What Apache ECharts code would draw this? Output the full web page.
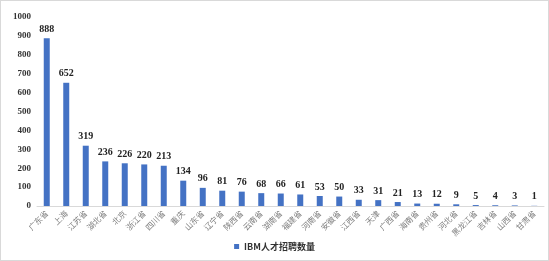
<!DOCTYPE html>
<html><head><meta charset="utf-8">
<script src="https://cdn.jsdelivr.net/npm/echarts@6/dist/echarts.min.js"></script>
<style>html,body{margin:0;padding:0;background:#fff}#c{width:549px;height:261px;box-sizing:border-box;border:1px solid #d9d9d9;}</style>
</head><body><div id="c"></div>
<script>
const categories = ['广东省','上海','江苏省','湖北省','北京','浙江省','四川省','重庆','山东省','辽宁省','陕西省','云南省','湖南省','福建省','河南省','安徽省','江西省','天津','广西省','海南省','贵州省','河北省','黑龙江省','吉林省','山西省','甘肃省'];
const values = [888,652,319,236,226,220,213,134,96,81,76,68,66,61,53,50,33,31,21,13,12,9,5,4,3,1];
const seriesName = 'IBM人才招聘数量';
const yMin = 0, yMax = 1000, yInterval = 100;
const chart = echarts.init(document.getElementById('c'));
chart.setOption({
  animation: false,
  grid: {left: 36, right: 4, top: 16, bottom: 54},
  legend: {bottom: 4, left: 'center', itemWidth: 5, itemHeight: 5, icon: 'rect',
    textStyle: {fontSize: 9, fontWeight: 'bold', color: '#333', fontFamily: 'Noto Sans CJK SC'}},
  xAxis: {type: 'category', data: categories,
    axisLine: {lineStyle: {color: '#d9d9d9'}}, axisTick: {show: false},
    axisLabel: {rotate: 45, fontSize: 8, color: '#7f7f7f', interval: 0, margin: 6, fontFamily: 'Noto Sans CJK SC'}},
  yAxis: {type: 'value', min: yMin, max: yMax, interval: yInterval,
    splitLine: {show: false}, axisLine: {show: false}, axisTick: {show: false},
    axisLabel: {fontSize: 9, color: '#333', fontWeight: 'bold', margin: 6, fontFamily: 'Liberation Serif', formatter: v => String(v)}},
  series: [{name: seriesName, type: 'bar', data: values, barWidth: 6,
    itemStyle: {color: '#4472C4'},
    label: {show: true, position: 'top', fontSize: 10, fontWeight: 'bold', color: '#222', distance: 4, fontFamily: 'Liberation Serif'}}]
});
</script></body></html>
